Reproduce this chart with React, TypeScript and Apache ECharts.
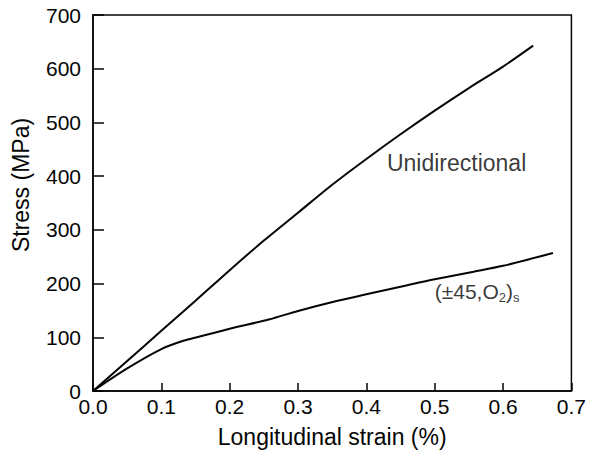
import React, { useEffect, useRef } from "react";
import * as echarts from "echarts";

const xTicks = [0, 0.1, 0.2, 0.3, 0.4, 0.5, 0.6, 0.7];
const yTicks = [0, 100, 200, 300, 400, 500, 600, 700];

const uniStrain = [0, 0.05, 0.1, 0.15, 0.2, 0.25, 0.3, 0.35, 0.4, 0.45, 0.5, 0.55, 0.6, 0.644];
const uniStress = [0, 56, 112, 168, 225, 280, 332, 384, 432, 478, 522, 564, 604, 643];

const angStrain = [0, 0.05, 0.1, 0.131, 0.155, 0.2, 0.257, 0.3, 0.358, 0.4, 0.46, 0.5, 0.557, 0.6, 0.673];
const angStress = [0, 42, 78, 93, 101, 116, 133, 149, 168, 180, 197, 208, 222, 233, 257];

const labelUni = { text: "Unidirectional", x: 0.532, y: 424 };
const labelAng = { x: 0.562, y: 186 };

const FONT = "Liberation Sans";
const INK = "#050505";

export default function App() {
  const ref = useRef<HTMLDivElement>(null);
  useEffect(() => {
    if (!ref.current) return;
    const chart = echarts.init(ref.current, undefined, { renderer: "svg" });
    const line = (xs: number[], ys: number[]) => xs.map((x, i) => [x, ys[i]]);
    chart.setOption({
      animation: false,
      backgroundColor: "#fff",
      grid: {
        left: 93,
        right: 14,
        top: 15,
        bottom: 64,
        show: true,
        borderColor: INK,
        borderWidth: 1.5,
      },
      xAxis: {
        type: "value",
        min: xTicks[0],
        max: xTicks[xTicks.length - 1],
        interval: 0.1,
        name: "Longitudinal strain (%)",
        nameLocation: "middle",
        nameGap: 34,
        nameTextStyle: { fontFamily: FONT, fontSize: 23, color: INK },
        axisLine: { show: true, lineStyle: { color: INK, width: 1.5 } },
        axisTick: { show: true, inside: true, length: 8, lineStyle: { color: INK, width: 1.5 } },
        axisLabel: {
          margin: 5,
          fontFamily: FONT,
          fontSize: 21,
          color: INK,
          formatter: (v: number) => v.toFixed(1),
        },
        splitLine: { show: false },
      },
      yAxis: {
        type: "value",
        min: yTicks[0],
        max: yTicks[yTicks.length - 1],
        interval: 100,
        name: "Stress (MPa)",
        nameLocation: "middle",
        nameGap: 61,
        nameRotate: 90,
        nameTextStyle: { fontFamily: FONT, fontSize: 23, color: INK, padding: [0, 0, 0, 36] },
        axisLine: { show: true, lineStyle: { color: INK, width: 1.5 } },
        axisTick: { show: true, inside: true, length: 11, lineStyle: { color: INK, width: 1.5 } },
        axisLabel: { margin: 12, fontFamily: FONT, fontSize: 21, color: INK },
        splitLine: { show: false },
      },
      series: [
        {
          type: "line",
          name: "Unidirectional",
          data: line(uniStrain, uniStress),
          smooth: 0.3,
          showSymbol: false,
          lineStyle: { color: INK, width: 2 },
        },
        {
          type: "line",
          name: "(±45,O2)s",
          data: line(angStrain, angStress),
          smooth: 0.3,
          showSymbol: false,
          lineStyle: { color: INK, width: 2 },
        },
        {
          type: "scatter",
          symbolSize: 0,
          silent: true,
          data: [
            {
              value: [labelUni.x, labelUni.y],
              label: {
                show: true,
                position: "inside",
                formatter: labelUni.text,
                fontFamily: FONT,
                fontSize: 23,
                color: INK,
              },
            },
            {
              value: [labelAng.x, labelAng.y],
              label: {
                show: true,
                position: "inside",
                formatter: "{m|(±45,O}{s|2}{m|)}{s|s}",
                rich: {
                  m: { fontFamily: FONT, fontSize: 21, color: INK, lineHeight: 26, verticalAlign: "middle" },
                  s: { fontFamily: FONT, fontSize: 13, color: INK, lineHeight: 26, verticalAlign: "bottom", padding: [9, 0, 0, 0] },
                },
              },
            },
          ],
        },
      ],
    });
    return () => chart.dispose();
  }, []);
  return (
    <div
      ref={ref}
      style={{ position: "fixed", left: 0, top: 0, width: 589, height: 455, background: "#fff" }}
    />
  );
}
